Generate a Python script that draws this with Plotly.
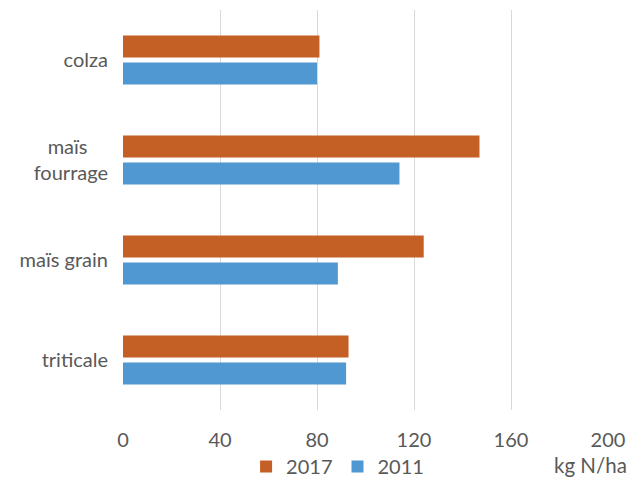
import plotly.graph_objects as go

categories = ["colza", "maïs\u00a0\u00a0\u00a0\u00a0<br>fourrage", "maïs grain", "triticale"]
values_2017 = [81, 147, 124, 93]
values_2011 = [80, 114, 88.6, 92]
x_ticks = [0, 40, 80, 120, 160, 200]

font_family = "Lato, 'Open Sans', sans-serif"
grey = "#595959"

fig = go.Figure()
fig.add_trace(go.Bar(y=categories, x=values_2017, name="2017", orientation="h",
                     marker=dict(color="#c45f26", line=dict(width=0))))
fig.add_trace(go.Bar(y=categories, x=values_2011, name="2011", orientation="h",
                     marker=dict(color="#4f98d2", line=dict(width=0))))

fig.update_layout(
    width=631, height=486,
    margin=dict(l=123, r=23, t=10, b=76, autoexpand=False),
    paper_bgcolor="white", plot_bgcolor="white",
    barmode="group", bargap=0.46, bargroupgap=0.18,
    font=dict(family=font_family, size=20, color=grey),
    showlegend=True,
    legend=dict(orientation="h", x=0.535, xanchor="center", xref="container",
                y=-0.014, yanchor="bottom", yref="container",
                traceorder="normal", font=dict(size=20, color=grey),
                itemwidth=30, tracegroupgap=0),
    xaxis=dict(range=[0, 200], tickvals=x_ticks, showgrid=True, gridcolor="#d9d9d9",
               gridwidth=1, zeroline=False, showline=False, ticks="",
               ticklabelstandoff=16, tickfont=dict(size=20, color=grey)),
    yaxis=dict(autorange="reversed", showgrid=False, zeroline=False, showline=False,
               ticks="", ticklabelstandoff=14, tickfont=dict(size=20, color=grey)),
    annotations=[dict(text="kg N/ha", x=1.0, xref="paper", xanchor="right", xshift=21,
                      y=-0.1375, yref="paper", yanchor="middle", showarrow=False,
                      font=dict(size=20.5, color=grey))],
)

fig.write_html("out.html")
